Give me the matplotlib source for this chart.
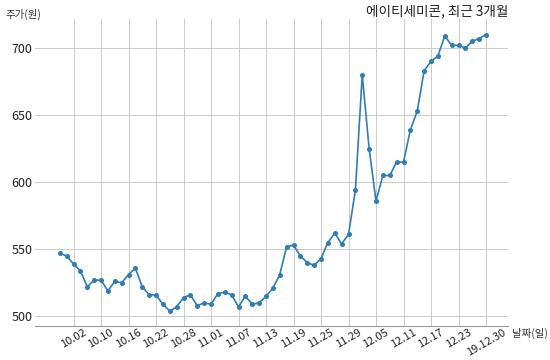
import matplotlib.pyplot as plt

plt.rcParams['font.family'] = ['Noto Sans CJK KR', 'DejaVu Sans']

# closing price, 2019.09.30 ~ 2019.12.30 (trading days)
prices = [547, 545, 539, 534, 522, 527, 527, 519, 526, 525,
          531, 536, 522, 516, 516, 509, 504, 507, 514, 516,
          508, 510, 509, 517, 518, 516, 507, 515, 509, 510,
          515, 521, 531, 552, 553, 545, 540, 538, 543, 555,
          562, 554, 561, 594, 680, 625, 586, 605, 605, 615,
          615, 639, 653, 683, 690, 694, 709, 702, 702, 700,
          705, 707, 710]
tick_pos = [2, 6, 10, 14, 18, 22, 26, 30, 34, 38, 42, 46, 50, 54, 58, 62]
tick_labels = ['10.02', '10.10', '10.16', '10.22', '10.28', '11.01', '11.07', '11.13',
               '11.19', '11.25', '11.29', '12.05', '12.11', '12.17', '12.23', '19.12.30']
y_ticks = [500, 550, 600, 650, 700]

fig = plt.figure(figsize=(5.5, 3.6), dpi=100)
ax = fig.add_axes([35/550, 1-326/360, (508-35)/550, (326-19)/360])

x = list(range(len(prices)))
ax.plot(x, prices, color='#2f7db6', linewidth=1.2, marker='o', markersize=2.6)

ax.set_xlim(-3.6, 65.2)
ax.set_ylim(492.8, 721.6)
ax.set_xticks(tick_pos)
ax.set_xticklabels(tick_labels, rotation=30, fontsize=8)
ax.set_yticks(y_ticks)
ax.set_yticklabels([str(v) for v in y_ticks], fontsize=9)
ax.tick_params(length=0, pad=2, colors='#222222')
ax.tick_params(axis='x', pad=1)
ax.grid(True, color='#cccccc', linewidth=0.75)
ax.set_axisbelow(True)
for s in ['top', 'right', 'left']:
    ax.spines[s].set_visible(False)
ax.spines['bottom'].set_color('#999999')
ax.spines['bottom'].set_linewidth(0.8)

fig.text(508/550, 1-11/360, '에이티세미콘, 최근 3개월', ha='right', va='center', fontsize=9.8, color='#222222')
fig.text(5/550, 1-14/360, '주가(원)', ha='left', va='center', fontsize=7.5, color='#333333')
fig.text(512/550, 1-333/360, '날짜(일)', ha='left', va='center', fontsize=7.5, color='#333333')

fig.savefig('out.png', dpi=100)
